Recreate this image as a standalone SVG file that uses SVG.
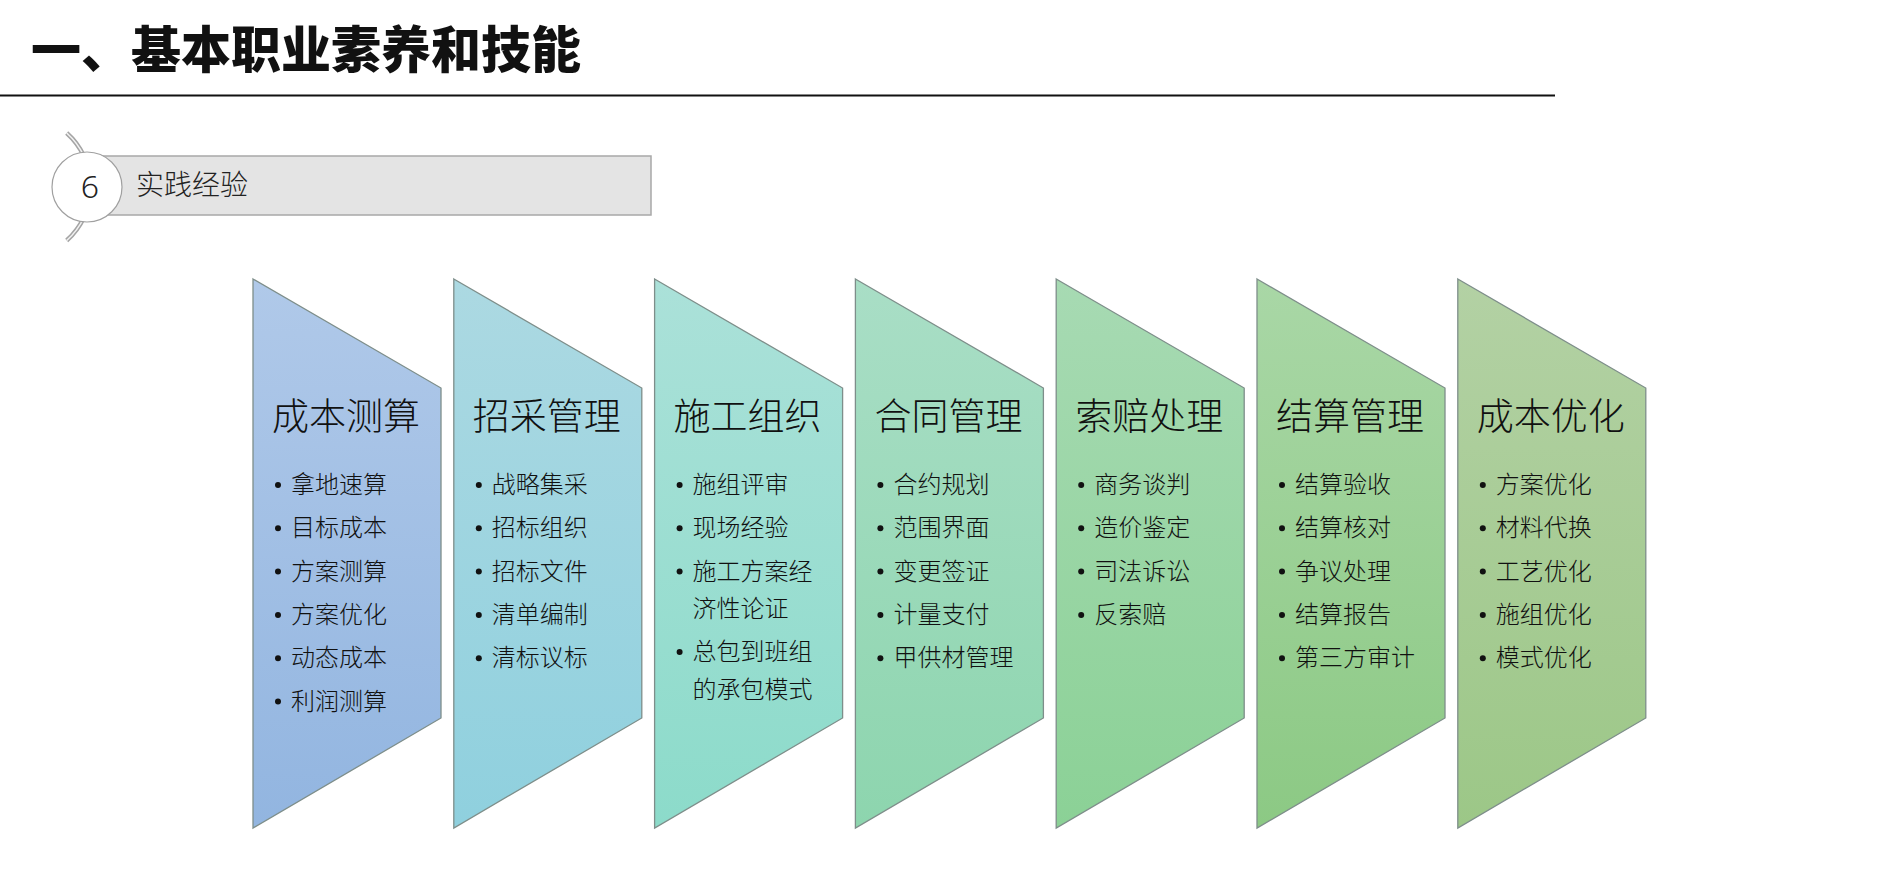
<svg xmlns="http://www.w3.org/2000/svg" width="1885" height="880" viewBox="0 0 1885 880">
<style>
.cjk{font-family:"Noto Sans CJK SC","Noto Sans",sans-serif;fill:#111}
.h1{font-size:50px;font-weight:900}
.sec{font-size:28px;font-weight:300;fill:#222}
.num{font-family:"Noto Sans","Liberation Sans",sans-serif;font-size:32px;font-weight:300;fill:#222}
.ttl{font-size:37px;font-weight:300}
.it{font-size:24px;font-weight:300}
.shape{stroke:#7E8E8A;stroke-width:1.3}
.b{fill:#111}
</style>
<defs>
<linearGradient id="g1" x1="0" y1="0" x2="0" y2="1"><stop offset="0" stop-color="#B0C9E9"/><stop offset="1" stop-color="#92B5E0"/></linearGradient>
<linearGradient id="g2" x1="0" y1="0" x2="0" y2="1"><stop offset="0" stop-color="#ACD9E2"/><stop offset="1" stop-color="#8FD0DE"/></linearGradient>
<linearGradient id="g3" x1="0" y1="0" x2="0" y2="1"><stop offset="0" stop-color="#ABE1D9"/><stop offset="1" stop-color="#8CDBCA"/></linearGradient>
<linearGradient id="g4" x1="0" y1="0" x2="0" y2="1"><stop offset="0" stop-color="#A9DEC6"/><stop offset="1" stop-color="#8DD5AE"/></linearGradient>
<linearGradient id="g5" x1="0" y1="0" x2="0" y2="1"><stop offset="0" stop-color="#A7DAB3"/><stop offset="1" stop-color="#8BD196"/></linearGradient>
<linearGradient id="g6" x1="0" y1="0" x2="0" y2="1"><stop offset="0" stop-color="#A9D7A6"/><stop offset="1" stop-color="#8CC984"/></linearGradient>
<linearGradient id="g7" x1="0" y1="0" x2="0" y2="1"><stop offset="0" stop-color="#B3D1A4"/><stop offset="1" stop-color="#9CC787"/></linearGradient>
<path id="sh" d="M0 279 L188 388 L188 718 L0 828 Z"/>
</defs>

<g id="header">
<text class="cjk h1" x="31" y="68">一、基本职业素养和技能</text>
<line x1="0" y1="95.5" x2="1555" y2="95.5" stroke="#111" stroke-width="2"/>
</g>

<g id="section">
<path d="M66.7 133 A72 72 0 0 1 66.7 240.5" fill="none" stroke="#A5A5A5" stroke-width="4.5"/>
<path d="M66.7 133 A72 72 0 0 1 66.7 240.5" fill="none" stroke="#F2F2F2" stroke-width="1.6"/>
<rect x="87" y="156" width="564" height="59" fill="#E4E4E4" stroke="#A8A8A8" stroke-width="1.5"/>
<circle cx="87" cy="187" r="35" fill="#FFFFFF" stroke="#A0A0A0" stroke-width="1.2"/>
<text class="num" x="90" y="198" text-anchor="middle">6</text>
<text class="cjk sec" x="136" y="195">实践经验</text>
</g>

<g id="n1" transform="translate(253 0)">
<use href="#sh" class="shape" fill="url(#g1)"/>
<text class="cjk ttl" x="19" y="430">成本测算</text>
<g class="cjk it">
<circle class="b" cx="25" cy="485" r="3"/><text x="38" y="493">拿地速算</text>
<circle class="b" cx="25" cy="528.3" r="3"/><text x="38" y="536.3">目标成本</text>
<circle class="b" cx="25" cy="571.6" r="3"/><text x="38" y="579.6">方案测算</text>
<circle class="b" cx="25" cy="614.9" r="3"/><text x="38" y="622.9">方案优化</text>
<circle class="b" cx="25" cy="658.2" r="3"/><text x="38" y="666.2">动态成本</text>
<circle class="b" cx="25" cy="701.5" r="3"/><text x="38" y="709.5">利润测算</text>
</g>
</g>

<g id="n2" transform="translate(453.8 0)">
<use href="#sh" class="shape" fill="url(#g2)"/>
<text class="cjk ttl" x="19" y="430">招采管理</text>
<g class="cjk it">
<circle class="b" cx="25" cy="485" r="3"/><text x="38" y="493">战略集采</text>
<circle class="b" cx="25" cy="528.3" r="3"/><text x="38" y="536.3">招标组织</text>
<circle class="b" cx="25" cy="571.6" r="3"/><text x="38" y="579.6">招标文件</text>
<circle class="b" cx="25" cy="614.9" r="3"/><text x="38" y="622.9">清单编制</text>
<circle class="b" cx="25" cy="658.2" r="3"/><text x="38" y="666.2">清标议标</text>
</g>
</g>

<g id="n3" transform="translate(654.6 0)">
<use href="#sh" class="shape" fill="url(#g3)"/>
<text class="cjk ttl" x="19" y="430">施工组织</text>
<g class="cjk it">
<circle class="b" cx="25" cy="485" r="3"/><text x="38" y="493">施组评审</text>
<circle class="b" cx="25" cy="528.3" r="3"/><text x="38" y="536.3">现场经验</text>
<circle class="b" cx="25" cy="571.6" r="3"/><text x="38" y="579.6">施工方案经</text>
<text x="38" y="617">济性论证</text>
<circle class="b" cx="25" cy="652" r="3"/><text x="38" y="660">总包到班组</text>
<text x="38" y="697.5">的承包模式</text>
</g>
</g>

<g id="n4" transform="translate(855.4 0)">
<use href="#sh" class="shape" fill="url(#g4)"/>
<text class="cjk ttl" x="19" y="430">合同管理</text>
<g class="cjk it">
<circle class="b" cx="25" cy="485" r="3"/><text x="38" y="493">合约规划</text>
<circle class="b" cx="25" cy="528.3" r="3"/><text x="38" y="536.3">范围界面</text>
<circle class="b" cx="25" cy="571.6" r="3"/><text x="38" y="579.6">变更签证</text>
<circle class="b" cx="25" cy="614.9" r="3"/><text x="38" y="622.9">计量支付</text>
<circle class="b" cx="25" cy="658.2" r="3"/><text x="38" y="666.2">甲供材管理</text>
</g>
</g>

<g id="n5" transform="translate(1056.2 0)">
<use href="#sh" class="shape" fill="url(#g5)"/>
<text class="cjk ttl" x="19" y="430">索赔处理</text>
<g class="cjk it">
<circle class="b" cx="25" cy="485" r="3"/><text x="38" y="493">商务谈判</text>
<circle class="b" cx="25" cy="528.3" r="3"/><text x="38" y="536.3">造价鉴定</text>
<circle class="b" cx="25" cy="571.6" r="3"/><text x="38" y="579.6">司法诉讼</text>
<circle class="b" cx="25" cy="614.9" r="3"/><text x="38" y="622.9">反索赔</text>
</g>
</g>

<g id="n6" transform="translate(1257 0)">
<use href="#sh" class="shape" fill="url(#g6)"/>
<text class="cjk ttl" x="19" y="430">结算管理</text>
<g class="cjk it">
<circle class="b" cx="25" cy="485" r="3"/><text x="38" y="493">结算验收</text>
<circle class="b" cx="25" cy="528.3" r="3"/><text x="38" y="536.3">结算核对</text>
<circle class="b" cx="25" cy="571.6" r="3"/><text x="38" y="579.6">争议处理</text>
<circle class="b" cx="25" cy="614.9" r="3"/><text x="38" y="622.9">结算报告</text>
<circle class="b" cx="25" cy="658.2" r="3"/><text x="38" y="666.2">第三方审计</text>
</g>
</g>

<g id="n7" transform="translate(1457.8 0)">
<use href="#sh" class="shape" fill="url(#g7)"/>
<text class="cjk ttl" x="19" y="430">成本优化</text>
<g class="cjk it">
<circle class="b" cx="25" cy="485" r="3"/><text x="38" y="493">方案优化</text>
<circle class="b" cx="25" cy="528.3" r="3"/><text x="38" y="536.3">材料代换</text>
<circle class="b" cx="25" cy="571.6" r="3"/><text x="38" y="579.6">工艺优化</text>
<circle class="b" cx="25" cy="614.9" r="3"/><text x="38" y="622.9">施组优化</text>
<circle class="b" cx="25" cy="658.2" r="3"/><text x="38" y="666.2">模式优化</text>
</g>
</g>

<g id="connectors"></g>
</svg>
